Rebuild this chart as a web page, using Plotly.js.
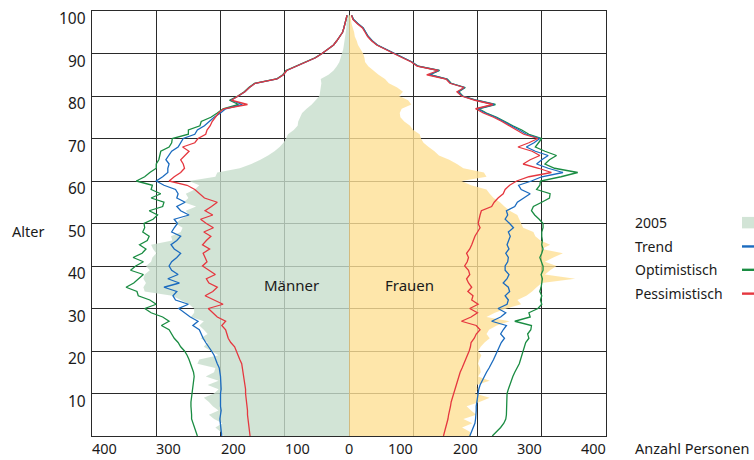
<!DOCTYPE html>
<html>
<head>
<meta charset="utf-8">
<script src="https://cdn.plot.ly/plotly-3.0.1.min.js"></script>
<style>
html,body{margin:0;padding:0;background:#ffffff;}
#chart{width:754px;height:460px;}
</style>
</head>
<body>
<div id="chart"></div>
<script>
// Alter (Jahre)
const ages = [0,1,2,3,4,5,6,7,8,9,10,11,12,13,14,15,16,17,18,19,20,21,22,23,24,25,26,27,28,29,30,31,32,33,34,35,36,37,38,39,40,41,42,43,44,45,46,47,48,49,50,51,52,53,54,55,56,57,58,59,60,61,62,63,64,65,66,67,68,69,70,71,72,73,74,75,76,77,78,79,80,81,82,83,84,85,86,87,88,89,90,91,92,93,94,95,96,97,98,99];

// Männer (Anzahl Personen)
const men2005 = [195,200,208,197,210,218,203,212,218,226,210,203,220,203,223,210,208,236,233,203,215,226,220,231,220,226,233,226,246,241,241,249,262,275,318,320,316,320,318,310,316,308,306,300,305,308,275,277,262,259,270,262,249,254,238,257,250,254,240,233,249,208,205,170,152,138,126,116,108,102,98,95,86,80,79,76,73,66,58,52,46,45,44,43,44,32,24,19,15,13,11,9,8,7,6,5,4,4,3,2];
const menTrend = [198,199,200,200,201,200,199,200,200,201,200,199,199,200,200,201,202,205,207,210,214,219,223,227,230,233,243,235,247,256,265,250,270,274,268,288,264,282,266,276,280,276,268,262,272,277,268,262,276,272,267,272,249,262,268,255,268,266,270,288,300,290,282,282,280,285,280,276,266,262,258,240,236,225,218,210,200,192,166,184,172,162,155,146,112,102,97,82,66,52,42,32,24,19,14,10,8,6,4,3];
const menOpt = [236,238,241,243,245,245,246,246,246,245,244,244,243,242,241,242,244,246,249,252,256,262,266,272,276,280,292,280,290,308,318,300,310,328,330,347,335,328,320,340,332,320,336,322,316,326,314,311,321,318,319,305,298,311,290,288,308,293,308,306,331,318,310,300,300,296,295,293,280,276,275,250,250,232,230,215,205,196,172,186,173,163,156,147,113,103,98,83,67,53,42,32,24,19,14,10,8,6,4,3];
const menPess = [154,155,156,156,157,158,158,159,160,160,161,161,162,162,163,164,165,167,170,173,176,178,184,188,190,192,198,192,205,212,219,196,210,224,212,205,218,222,208,218,228,221,224,227,217,228,222,215,226,211,222,231,212,224,214,205,225,232,240,252,280,272,262,256,258,262,255,249,259,240,235,223,221,216,213,208,203,195,158,183,172,162,155,146,112,102,97,82,66,52,42,32,24,19,14,10,8,6,4,3];

// Frauen (Anzahl Personen)
const women2005 = [190,188,176,192,178,198,190,183,203,219,196,200,198,219,201,205,204,201,203,206,201,205,211,219,214,218,230,250,214,227,245,268,262,276,285,292,300,352,305,313,323,305,318,333,300,313,298,290,287,271,268,265,262,250,242,235,225,219,214,190,175,214,210,178,168,156,140,133,124,116,112,110,100,95,86,80,79,82,97,92,78,84,75,62,56,46,38,30,25,24,22,18,14,12,9,8,6,4,3,2];
const womenTrend = [188,191,194,196,197,198,198,198,199,199,201,202,204,207,210,214,218,222,225,228,231,234,237,242,236,240,245,222,236,244,232,246,248,243,250,248,240,246,249,243,243,247,248,244,249,246,248,251,248,256,250,243,247,245,258,262,272,282,268,264,284,300,333,310,292,300,310,290,276,288,297,276,265,252,241,228,212,200,226,198,176,170,180,158,152,125,140,107,98,84,70,56,44,36,30,26,22,14,7,4];
const womenOpt = [223,230,236,241,244,245,245,245,245,245,246,248,250,252,255,258,262,265,267,269,271,273,275,280,278,283,284,258,282,280,294,300,298,300,297,299,300,301,299,302,302,299,297,300,302,300,301,300,300,302,302,296,289,284,287,300,312,313,292,297,298,330,356,320,305,312,323,305,290,295,300,280,269,255,243,230,214,202,228,199,177,171,181,159,153,126,141,108,98,84,70,56,44,36,30,26,22,14,7,4];
const womenPess = [147,149,151,153,154,155,157,158,159,161,162,164,166,168,171,173,176,179,181,184,187,189,190,195,198,204,198,175,190,200,188,201,191,193,185,191,186,183,188,186,180,184,186,183,188,191,193,196,200,204,201,202,204,206,222,226,232,240,243,250,261,280,315,295,271,282,297,285,263,280,294,272,261,249,238,225,209,197,224,196,175,168,179,157,151,121,139,106,97,83,69,55,43,35,29,25,21,13,6,4];

// Achsen und Beschriftungen
const xTickVals = [-400,-300,-200,-100,0,100,200,300,400];
const xTickText = ['400','300','200','100','0','100','200','300','400'];
const yTickVals = [10,20,30,40,50,60,70,80,90,100];
const yTickText = ['10','20','30','40','50','60','70','80','90','100'];
const seriesNames = ['2005','Trend','Optimistisch','Pessimistisch'];
const groupLabels = ['Männer','Frauen'];
const yAxisLabel = 'Alter';
const xAxisLabel = 'Anzahl Personen';

const C = {
  menFill: 'rgba(199,221,204,0.8)',
  womenFill: 'rgba(254,224,149,0.8)',
  legendFill: '#d2e4d6',
  trend: '#1b6bbf',
  opt: '#1a8c42',
  pess: '#e5373f',
  grid: '#2a2a2a',
  text: '#1a1a1a'
};
const FONT = 'Noto Sans, Open Sans, sans-serif';
const neg = a => a.map(v => -v);

function lineTrace(x, color) {
  return {x: x, y: ages, type: 'scatter', mode: 'lines',
    line: {color: color, width: 1.3}, hoverinfo: 'skip', cliponaxis: true};
}

const traces = [
  {x: neg(men2005), y: ages, type: 'scatter', mode: 'none', fill: 'tozerox', fillcolor: C.menFill, hoverinfo: 'skip'},
  {x: women2005, y: ages, type: 'scatter', mode: 'none', fill: 'tozerox', fillcolor: C.womenFill, hoverinfo: 'skip'},
  lineTrace(neg(menOpt), C.opt),
  lineTrace(neg(menTrend), C.trend),
  lineTrace(neg(menPess), C.pess),
  lineTrace(womenOpt, C.opt),
  lineTrace(womenTrend, C.trend),
  lineTrace(womenPess, C.pess)
];

const annotations = [];
// x tick labels
xTickVals.forEach((v, i) => {
  annotations.push({
    x: v, xref: 'x', y: -0.0287, yref: 'paper',
    text: xTickText[i], showarrow: false,
    xanchor: v < 0 ? 'left' : (v > 0 ? 'right' : 'center'),
    xshift: v < 0 ? -2 : (v > 0 ? 2 : 0),
    yanchor: 'middle',
    font: {family: FONT, size: 14.5, color: C.text}
  });
});
// y tick labels
yTickVals.forEach((v, i) => {
  annotations.push({
    x: 0, xref: 'paper', y: v, yref: 'y',
    text: yTickText[i], showarrow: false,
    xanchor: 'right', xshift: -4, yanchor: 'middle', yshift: -7,
    font: {family: FONT, size: 15.5, color: C.text}
  });
});
// axis labels
annotations.push({x: -0.1595, xref: 'paper', y: 48.2, yref: 'y', text: yAxisLabel, showarrow: false,
  xanchor: 'left', yanchor: 'middle', font: {family: FONT, size: 14.5, color: C.text}});
annotations.push({x: 1.0525, xref: 'paper', y: -0.0287, yref: 'paper', text: xAxisLabel, showarrow: false,
  xanchor: 'left', yanchor: 'middle', font: {family: FONT, size: 14.5, color: C.text}});
// group labels
annotations.push({x: -90, xref: 'x', y: 35.5, yref: 'y', text: groupLabels[0], showarrow: false,
  xanchor: 'center', yanchor: 'middle', font: {family: FONT, size: 15, color: C.text}});
annotations.push({x: 94, xref: 'x', y: 35.5, yref: 'y', text: groupLabels[1], showarrow: false,
  xanchor: 'center', yanchor: 'middle', font: {family: FONT, size: 15, color: C.text}});

// legend (text left, symbol right)
const legendY = [50.2, 44.6, 39.1, 33.5];
const legendColors = [C.legendFill, C.trend, C.opt, C.pess];
const shapes = [];
seriesNames.forEach((name, i) => {
  annotations.push({x: 1.0525, xref: 'paper', y: legendY[i], yref: 'y', text: name, showarrow: false,
    xanchor: 'left', yanchor: 'middle', font: {family: FONT, size: 14, color: C.text}});
  if (i === 0) {
    shapes.push({type: 'rect', xref: 'paper', yref: 'y', x0: 1.2646, x1: 1.30,
      y0: legendY[i] - 1.35, y1: legendY[i] + 1.35, fillcolor: legendColors[i], line: {width: 0}});
  } else {
    shapes.push({type: 'line', xref: 'paper', yref: 'y', x0: 1.2646, x1: 1.30,
      y0: legendY[i], y1: legendY[i], line: {color: legendColors[i], width: 2.4}});
  }
});

const layout = {
  width: 754, height: 460,
  margin: {l: 92, r: 148, t: 11, b: 24, pad: 0},
  paper_bgcolor: '#ffffff', plot_bgcolor: '#ffffff',
  showlegend: false,
  font: {family: FONT, size: 14, color: C.text},
  xaxis: {range: [-400, 400], tickvals: xTickVals, showticklabels: false, ticks: '',
    showgrid: true, gridcolor: C.grid, gridwidth: 1, zeroline: false,
    showline: true, mirror: true, linecolor: C.grid, linewidth: 1, fixedrange: true},
  yaxis: {range: [0, 100], tickvals: yTickVals, showticklabels: false, ticks: '',
    showgrid: true, gridcolor: C.grid, gridwidth: 1, zeroline: false,
    showline: true, mirror: true, linecolor: C.grid, linewidth: 1, fixedrange: true},
  annotations: annotations,
  shapes: shapes
};

Plotly.newPlot('chart', traces, layout, {displayModeBar: false, staticPlot: true});
</script>
</body>
</html>
